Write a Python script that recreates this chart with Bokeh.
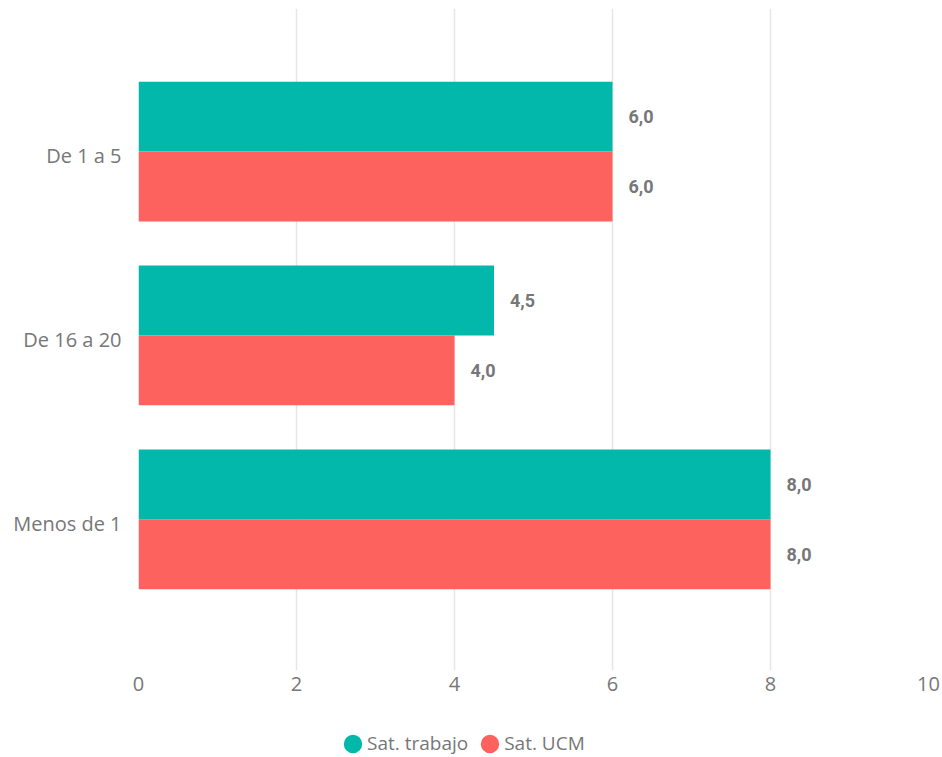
from bokeh.plotting import figure
from bokeh.layouts import column
from bokeh.models import (FactorRange, Range1d, ColumnDataSource, Legend, LegendItem,
                          FixedTicker)
from bokeh.transform import dodge
from bokeh.embed import file_html
from bokeh.resources import INLINE
from bokeh.core.properties import value

# ---- data ----
categories = ["De 1 a 5", "De 16 a 20", "Menos de 1"]
sat_trabajo = [6.0, 4.5, 8.0]
sat_ucm = [6.0, 4.0, 8.0]
series_names = ["Sat. trabajo", "Sat. UCM"]
x_ticks = [0, 2, 4, 6, 8, 10]

TEAL = "#01B8AA"
RED = "#FD625E"
GREY = "#777777"
FONT = "Open Sans"


def fmt(v):
    return f"{v:.1f}".replace(".", ",")


source = ColumnDataSource(dict(
    cat=categories,
    trabajo=sat_trabajo,
    ucm=sat_ucm,
    trabajo_lbl=[fmt(v) for v in sat_trabajo],
    ucm_lbl=[fmt(v) for v in sat_ucm],
))

p = figure(
    width=942, height=710,
    y_range=FactorRange(factors=categories[::-1], range_padding=0.3,
                        range_padding_units="absolute"),
    x_range=Range1d(0, 10),
    output_backend="svg", toolbar_location=None, title=None,
    min_border_left=138, min_border_right=14, min_border_top=8, min_border_bottom=40,
)

p.outline_line_color = None
p.ygrid.grid_line_color = None
p.xgrid.grid_line_color = "#E6E6E6"
p.xgrid.grid_line_width = 1.5

p.xaxis.ticker = FixedTicker(ticks=x_ticks)
for ax in (p.xaxis, p.yaxis):
    ax.axis_line_color = None
    ax.major_tick_line_color = None
    ax.minor_tick_line_color = None
    ax.major_tick_out = 0
    ax.major_tick_in = 0
    ax.major_label_text_color = GREY
    ax.major_label_text_font = FONT
    ax.major_label_text_font_size = "20px"
p.xaxis.major_label_standoff = 6
p.yaxis.major_label_standoff = 17

y_top = dodge("cat", 0.212, range=p.y_range)
y_bot = dodge("cat", -0.168, range=p.y_range)

p.hbar(y=y_top, left=0, right="trabajo", height=0.38, source=source,
       fill_color=TEAL, line_color=None)
p.hbar(y=y_bot, left=0, right="ucm", height=0.38, source=source,
       fill_color=RED, line_color=None)

for col, yy in (("trabajo", y_top), ("ucm", y_bot)):
    p.text(x=col, y=yy, text=col + "_lbl", source=source, x_offset=16,
           text_align="left", text_baseline="middle",
           text_font=value("Roboto"), text_font_style="bold",
           text_font_size="18px", text_color=GREY)

# ---- legend strip (proxy glyphs sit outside the strip's visible range) ----
p_leg = figure(
    width=942, height=47, x_range=Range1d(0, 1), y_range=Range1d(0, 1),
    output_backend="svg", toolbar_location=None, title=None,
    x_axis_location=None, y_axis_location=None,
    min_border_left=138, min_border_right=14, min_border_top=0, min_border_bottom=0,
)
p_leg.outline_line_color = None
p_leg.grid.visible = False

proxy = ColumnDataSource(dict(x=[-5.0], y=[-5.0]))
e1 = p_leg.ellipse(x="x", y="y", width=18, height=18, width_units="screen",
                   height_units="screen", source=proxy,
                   fill_color=TEAL, line_color=None)
e2 = p_leg.ellipse(x="x", y="y", width=18, height=18, width_units="screen",
                   height_units="screen", source=proxy,
                   fill_color=RED, line_color=None)

legend = Legend(
    items=[LegendItem(label=series_names[0], renderers=[e1]),
           LegendItem(label=series_names[1], renderers=[e2])],
    orientation="horizontal",
    location=(203, 1),
    glyph_width=23, glyph_height=23,
    label_standoff=3, spacing=10, padding=0, margin=0,
    border_line_color=None, background_fill_alpha=0,
    label_text_font=FONT, label_text_font_size="19px", label_text_color=GREY,
)
p_leg.add_layout(legend)

layout = column(p, p_leg, spacing=0)
open("out.html", "w").write(file_html(layout, INLINE))
